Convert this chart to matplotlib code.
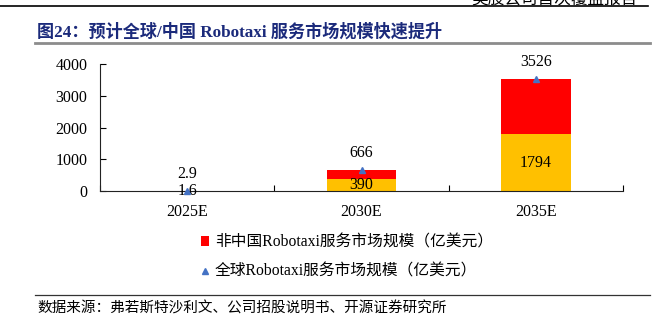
import matplotlib
matplotlib.use('Agg')
import matplotlib.pyplot as plt
from matplotlib.lines import Line2D
from matplotlib.patches import Patch

plt.rcParams['font.family'] = ['Liberation Serif', 'Noto Sans CJK SC']

YEARS = ['2025E', '2030E', '2035E']
CHINA = [1.6, 390, 1794]
GLOBAL = [2.9, 666, 3526]
Y_TICKS = [0, 1000, 2000, 3000, 4000]

TITLE = '图24：预计全球/中国 Robotaxi 服务市场规模快速提升'
HEADER = '美股公司首次覆盖报告'
SOURCE = '数据来源：弗若斯特沙利文、公司招股说明书、开源证券研究所'
LEGEND_LABELS = [
    '非中国Robotaxi服务市场规模（亿美元）',
    '全球Robotaxi服务市场规模（亿美元）',
]

COLOURS = {
    'china': '#FFC000',
    'non_china': '#FF0000',
    'global': '#4472C4',
    'title': '#1B2A7B',
}

W, H = 669, 327


def fx(px):
    return px / W


def fy(py):
    return 1 - py / H


def plot_market_size():
    fig = plt.figure(figsize=(W / 100, H / 100), dpi=100)
    ax = fig.add_axes([fx(100), fy(191), fx(623) - fx(100), fy(64) - fy(191)])

    x = list(range(len(YEARS)))
    non_china = [g - c for g, c in zip(GLOBAL, CHINA)]

    ax.bar(x, CHINA, width=0.4, color=COLOURS['china'])
    ax.bar(x, non_china, width=0.4, bottom=CHINA, color=COLOURS['non_china'])
    ax.plot(x, GLOBAL, linestyle='none', marker='^', markersize=5,
            color=COLOURS['global'], zorder=7, clip_on=False)

    for i in x:
        ax.annotate(f'{GLOBAL[i]:g}', (i, GLOBAL[i]), xytext=(0, 12),
                    textcoords='offset points', ha='center', va='center',
                    fontsize=11.5)
        ax.text(i, CHINA[i] / 2, f'{CHINA[i]:g}', ha='center', va='center',
                fontsize=11.5, zorder=6)

    ax.set_xlim(-0.5, 2.5)
    ax.set_ylim(0, 4000)
    ax.set_yticks(Y_TICKS)
    ax.set_xticks([-0.5, 0.5, 1.5, 2.5])
    ax.set_xticklabels([])
    ax.set_xticks(x, minor=True)
    ax.set_xticklabels(YEARS, minor=True)

    ax.tick_params(axis='x', which='major', direction='in', length=4, width=0.8)
    ax.tick_params(axis='x', which='minor', length=0, pad=9, labelsize=11.5)
    ax.tick_params(axis='y', direction='in', length=4, width=0.8, pad=9,
                   labelsize=11.5)

    for side in ['top', 'right']:
        ax.spines[side].set_visible(False)
    for side in ['left', 'bottom']:
        ax.spines[side].set_linewidth(0.8)
        ax.spines[side].set_color('#222222')

    handles = [
        Patch(facecolor=COLOURS['non_china']),
        Line2D([], [], linestyle='none', marker='^', markersize=5,
               color=COLOURS['global']),
    ]
    fig.legend(handles, LEGEND_LABELS, loc='center left',
               bbox_to_anchor=(fx(193), fy(257)), frameon=False,
               fontsize=11.3, handlelength=0.55, handleheight=0.55,
               handletextpad=0.35, labelspacing=0.85, borderpad=0)

    # report header, title and source footer
    fig.text(fx(638), fy(-1), HEADER, ha='right', va='center', fontsize=12)
    fig.add_artist(Line2D([0, fx(648)], [fy(6), fy(6)], color='black', lw=1.2))
    fig.text(fx(37), fy(32), TITLE, ha='left', va='center', fontsize=12.3,
             fontweight='bold', color=COLOURS['title'])
    fig.add_artist(Line2D([fx(35), fx(650)], [fy(43), fy(43)],
                          color='#8C8C8C', lw=2))
    fig.add_artist(Line2D([fx(35), fx(650)], [fy(295), fy(295)],
                          color='#333333', lw=0.9))
    fig.text(fx(37), fy(309), SOURCE, ha='left', va='center', fontsize=10.5)

    fig.savefig('out.png', dpi=100)


if __name__ == '__main__':
    plot_market_size()
